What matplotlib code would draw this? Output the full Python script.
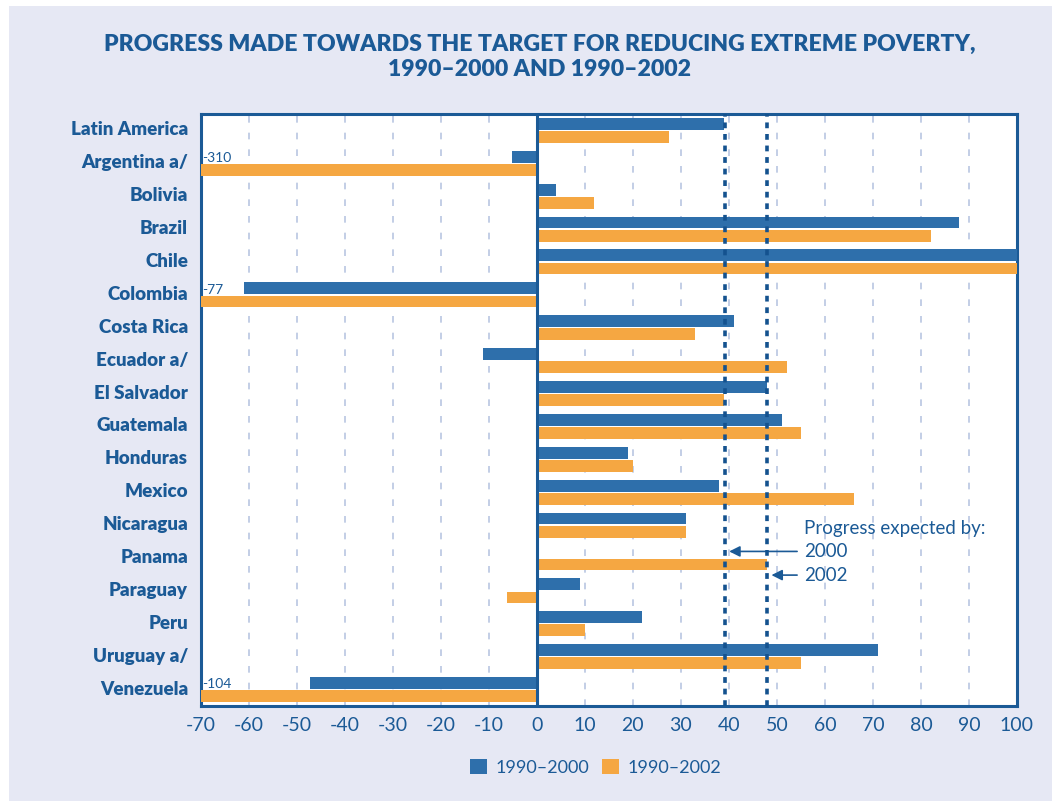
import matplotlib.pyplot as plt
from matplotlib.patches import Rectangle, Patch
import numpy as np

countries = ['Latin America', 'Argentina a/', 'Bolivia', 'Brazil', 'Chile', 'Colombia',
             'Costa Rica', 'Ecuador a/', 'El Salvador', 'Guatemala', 'Honduras', 'Mexico',
             'Nicaragua', 'Panama', 'Paraguay', 'Peru', 'Uruguay a/', 'Venezuela']
progress_2000 = [39.1, -5.1, 4.0, 88.0, 100.0, -61.0, 41.0, -11.1, 47.9, 51.0, 19.0, 37.9,
                 31.1, 0.0, 9.0, 21.9, 71.0, -47.1]
progress_2002 = [27.5, -310.0, 12.0, 82.0, 100.0, -77.0, 33.0, 52.1, 39.0, 55.0, 20.1, 66.0,
                 31.1, 48.0, -6.1, 10.1, 55.0, -104.0]
expected = {'2000': 39.2, '2002': 48.0}
xticks = list(range(-70, 101, 10))

text_col = '#1b5a96'
blue = '#2e6fab'
orange = '#f5a742'
bg = '#e6e8f4'

plt.rcParams['font.family'] = ['Lato', 'DejaVu Sans']

fig = plt.figure(figsize=(10.52, 8.01), dpi=100)
fig.patch.set_facecolor('white')
fig.add_artist(Rectangle((9 / 1052, 0), 1 - 9 / 1052, 1 - 6 / 801, transform=fig.transFigure,
                         facecolor=bg, edgecolor='none', zorder=0))

ax = fig.add_axes([0.1906, 0.1186, 0.9667 - 0.1906, 0.8577 - 0.1186])
ax.set_facecolor('white')

y = np.arange(len(countries))
xmin, xmax = -70, 100
ax.barh(y - 0.2, np.clip(progress_2000, xmin, xmax), height=0.36, color=blue, zorder=3)
ax.barh(y + 0.2, np.clip(progress_2002, xmin, xmax), height=0.36, color=orange, zorder=3)

# values that run off the left edge
for i, (a, b) in enumerate(zip(progress_2000, progress_2002)):
    if b < xmin:
        ax.text(xmin + 0.4, i + 0.02, '%d' % b, ha='left', va='bottom', fontsize=10,
                color=text_col, zorder=4)

ax.set_xlim(xmin, xmax)
ax.set_ylim(len(countries) - 0.5, -0.5)
ax.set_xticks(xticks)
ax.set_xticklabels([str(t) for t in xticks], fontsize=14, color=text_col)
ax.set_yticks(y - 0.06)
ax.set_yticklabels(countries, fontsize=13.5, fontweight='heavy', color=text_col)
ax.tick_params(length=0, pad=8)
ax.tick_params(axis='y', pad=9)

for t in xticks:
    if t in (xmin, 0, xmax):
        continue
    ax.axvline(t, color='#b9c6e2', lw=1.2, linestyle=(0, (4, 6)), zorder=1)

ax.axvline(0, color=text_col, lw=2.2, zorder=4)
for v in expected.values():
    ax.axvline(v, color='#14528f', lw=2.6, linestyle=(0, (1.6, 1.6)), zorder=5)

for s in ax.spines.values():
    s.set_color(text_col)
    s.set_linewidth(2.2)

ax.text(55.7, 12.1, 'Progress expected by:', fontsize=13.5, color=text_col, va='center')
ax.text(55.7, 12.8, '2000', fontsize=13.5, color=text_col, va='center')
ax.text(55.7, 13.52, '2002', fontsize=13.5, color=text_col, va='center')
ax.annotate('', xy=(expected['2000'] + 0.3, 12.8), xytext=(54.8, 12.8),
            arrowprops=dict(arrowstyle='-|>', color=text_col, lw=1.2, mutation_scale=16))
ax.annotate('', xy=(expected['2002'] + 0.3, 13.52), xytext=(54.8, 13.52),
            arrowprops=dict(arrowstyle='-|>', color=text_col, lw=1.2, mutation_scale=16))

fig.text(0.513, 0.944, 'PROGRESS MADE TOWARDS THE TARGET FOR REDUCING EXTREME POVERTY,',
         ha='center', va='center', fontsize=16.6, fontweight='heavy', color=text_col)
fig.text(0.513, 0.913, '1990\u20132000 AND 1990\u20132002',
         ha='center', va='center', fontsize=16.6, fontweight='heavy', color=text_col)

handles = [Patch(facecolor=blue, label='1990\u20132000'),
           Patch(facecolor=orange, label='1990\u20132002')]
leg = fig.legend(handles=handles, loc='center', bbox_to_anchor=(0.566, 0.042), ncol=2,
                 frameon=False, fontsize=13, handlelength=0.95, handleheight=0.95,
                 handletextpad=0.45, columnspacing=0.7)
for t in leg.get_texts():
    t.set_color(text_col)

fig.savefig('out.png', dpi=100, facecolor=fig.get_facecolor())
